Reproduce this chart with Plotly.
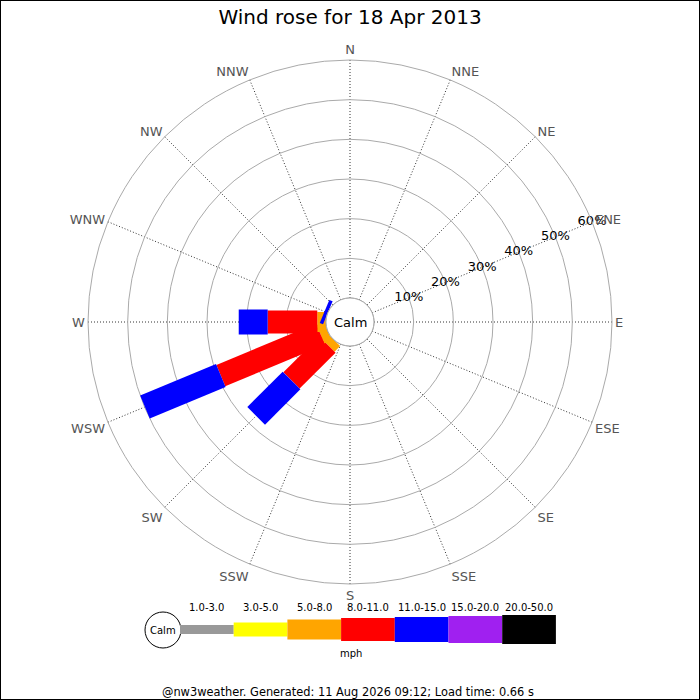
import math
import numpy as np
import plotly.graph_objects as go

# compass points and the speed bins (mph)
directions = ['N', 'NNE', 'NE', 'ENE', 'E', 'ESE', 'SE', 'SSE',
              'S', 'SSW', 'SW', 'WSW', 'W', 'WNW', 'NW', 'NNW']
dir_angles = [i * 22.5 for i in range(16)]
bin_labels = ['1.0-3.0', '3.0-5.0', '5.0-8.0', '8.0-11.0', '11.0-15.0', '15.0-20.0', '20.0-50.0']
bin_colors = ['#999999', '#ffff00', '#ffa500', '#ff0000', '#0000ff', '#a020f0', '#000000']

# percentage of readings per direction, one list per speed bin
#            N  NNE NE ENE E ESE SE SSE S SSW  SW   WSW   W   WNW NW NNW
pct_1_3   = [0, 0, 0, 0, 0, 0, 0, 0, 0, 0, 0, 0, 0, 0, 0, 0]
pct_3_5   = [0, 0, 0, 0, 0, 0, 0, 0, 0, 0, 0, 0, 0, 0, 0, 0]
pct_5_8   = [0, 0, 0, 0, 0, 0, 0, 0, 0, 0, 2.0, 2.0, 2.2, 0, 0, 0]
pct_8_11  = [0, 0, 0, 0, 0, 0, 0, 0, 0, 0, 12.8, 27.2, 12.5, 0, 0, 0]
pct_11_15 = [0, 0, 0, 0, 0, 0, 0, 0, 0, 0, 12.6, 20.7, 7.3, 0.9, 0, 0]
pct_15_20 = [0, 0, 0, 0, 0, 0, 0, 0, 0, 0, 0, 0, 0, 0, 0, 0]
pct_20_50 = [0, 0, 0, 0, 0, 0, 0, 0, 0, 0, 0, 0, 0, 0, 0, 0]
bins = [pct_1_3, pct_3_5, pct_5_8, pct_8_11, pct_11_15, pct_15_20, pct_20_50]

ring_vals = [10, 20, 30, 40, 50, 60]
ring_text = ['10%', '20%', '30%', '40%', '50%', '60%']

# geometry (pixels in a 700x700 page)
W = H = 700
CX, CY = 350, 322
R_PX = 262
CALM_PX = 24
HOLE = CALM_PX / R_PX
RMAX = 60
bar_px = [9, 14, 20, 23, 25, 27, 29]   # thickness of each speed band
FONT = 'DejaVu Sans'


def px(x):
    return x / W


def py(y):
    return 1 - y / H


def band(angle, a0, a1, thick):
    # straight-sided bar from a0 to a1 (%), constant pixel thickness
    hn = thick / 2 / R_PX
    rr, tt = [], []
    for a, s in [(a0, -1), (a1, -1), (a1, 1), (a0, 1), (a0, -1)]:
        p = HOLE + (1 - HOLE) * a / RMAX
        rho = math.hypot(p, hn)
        phi = math.degrees(math.atan2(hn, p))
        rr.append((rho - HOLE) / (1 - HOLE) * RMAX)
        tt.append(angle + s * phi)
    return rr, tt


def label(text, x, y, size, color='black'):
    return dict(text=text, x=px(x), y=py(y), xref='paper', yref='paper', showarrow=False,
                xanchor='center', yanchor='middle',
                font=dict(family=FONT, size=size, color=color))


fig = go.Figure()

for d, ang in enumerate(dir_angles):
    start = 0.0
    for b, vals in enumerate(bins):
        v = vals[d]
        if v <= 0:
            continue
        rr, tt = band(ang, start, start + v, bar_px[b])
        fig.add_trace(go.Scatterpolar(
            r=rr, theta=tt, mode='lines', fill='toself',
            fillcolor=bin_colors[b], line=dict(width=0, color=bin_colors[b]),
            hoverinfo='skip', showlegend=False))
        start += v

# calm circle outline at the hole edge
calm_theta = np.linspace(0, 360, 121)
fig.add_trace(go.Scatterpolar(
    r=[0] * len(calm_theta), theta=calm_theta, mode='lines',
    line=dict(color='#999999', width=1), hoverinfo='skip', showlegend=False))

# ring labels along the ENE spoke
fig.add_trace(go.Scatterpolar(
    r=ring_vals, theta=[67.5] * len(ring_vals), mode='text', text=ring_text,
    textposition='middle center', textfont=dict(family=FONT, size=13, color='black'),
    hoverinfo='skip', showlegend=False))

shapes = [dict(type='rect', xref='paper', yref='paper', x0=0, x1=1, y0=0, y1=1,
               line=dict(color='black', width=2), fillcolor='rgba(0,0,0,0)')]
annotations = [label('Calm', CX, CY, 13)]

# legend strip along the bottom
lx0, lstep, ly = 180, 53.7, 629.5
shapes.append(dict(type='circle', xref='paper', yref='paper',
                   x0=px(145), x1=px(181), y0=py(648), y1=py(612),
                   line=dict(color='black', width=1), fillcolor='white'))
annotations.append(label('Calm', 163, 630, 10))
for i, lab in enumerate(bin_labels):
    x0 = lx0 + i * lstep
    x1 = x0 + lstep
    h = bar_px[i]
    shapes.append(dict(type='rect', xref='paper', yref='paper',
                       x0=px(x0), x1=px(x1), y0=py(ly + h / 2), y1=py(ly - h / 2),
                       line=dict(width=0), fillcolor=bin_colors[i]))
    annotations.append(label(lab, (x0 + x1) / 2, 607, 10))
annotations.append(label('mph', 351, 653, 10))
annotations.append(label('@nw3weather. Generated: 11 Aug 2026 09:12; Load time: 0.66 s', 348, 692, 11.4))

fig.update_layout(
    width=W, height=H,
    margin=dict(l=0, r=0, t=0, b=0),
    paper_bgcolor='white',
    title=dict(text='Wind rose for 18 Apr 2013', x=0.5, xanchor='center',
               y=py(17), yanchor='middle', font=dict(family=FONT, size=20, color='black')),
    polar=dict(
        domain=dict(x=[px(CX - R_PX), px(CX + R_PX)], y=[py(CY + R_PX), py(CY - R_PX)]),
        hole=HOLE,
        bgcolor='white',
        radialaxis=dict(range=[0, RMAX], tickvals=ring_vals, showticklabels=False,
                        ticks='', showline=False, gridcolor='#aaaaaa', gridwidth=1),
        angularaxis=dict(rotation=90, direction='clockwise', tickvals=dir_angles,
                         ticktext=directions, ticks='', gridcolor='#333333', griddash='1px,2px',
                         gridwidth=1, linecolor='#aaaaaa', linewidth=1,
                         tickfont=dict(family=FONT, size=13, color='#555555')),
    ),
    shapes=shapes,
    annotations=annotations,
)

fig.write_html('out.html', config={'displayModeBar': False},
               post_script="document.body.style.margin='0px';")
